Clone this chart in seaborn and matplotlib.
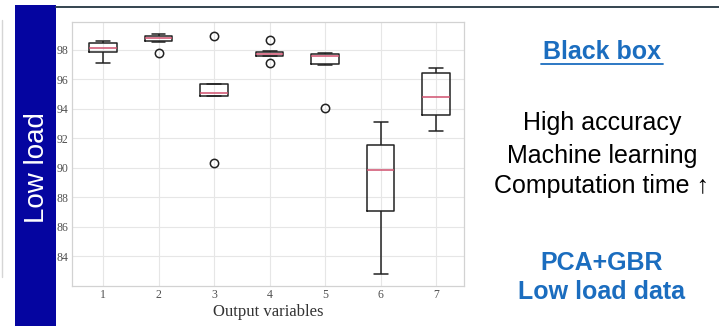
import numpy as np
import pandas as pd
import matplotlib
matplotlib.use('Agg')
import matplotlib.pyplot as plt
from matplotlib.lines import Line2D
from matplotlib.patches import Rectangle
import seaborn as sns

var_labels = ['1', '2', '3', '4', '5', '6', '7']
acc_1 = [97.14, 97.60, 97.84, 98.00, 98.15, 98.30, 98.50, 98.58, 98.63]
acc_2 = [97.78, 98.55, 98.59, 98.70, 98.83, 98.90, 98.97, 99.05, 99.10]
acc_3 = [90.32, 94.88, 94.90, 94.95, 95.07, 95.40, 95.70, 95.72, 98.95]
acc_4 = [97.10, 97.58, 97.60, 97.65, 97.72, 97.80, 97.88, 97.90, 98.65]
acc_5 = [94.10, 97.00, 97.03, 97.30, 97.60, 97.65, 97.70, 97.75, 97.80]
acc_6 = [82.82, 85.50, 87.10, 88.50, 89.84, 90.70, 91.56, 92.30, 93.11]
acc_7 = [92.48, 93.20, 93.56, 94.20, 94.82, 95.60, 96.42, 96.60, 96.76]
y_ticks = [84, 86, 88, 90, 92, 94, 96, 98]

samples = [acc_1, acc_2, acc_3, acc_4, acc_5, acc_6, acc_7]
df = pd.DataFrame({
    'var': np.repeat(var_labels, [len(s) for s in samples]),
    'acc': np.concatenate(samples),
})

sns.set_style('white')
plt.rcParams['font.family'] = ['Liberation Sans', 'DejaVu Sans']

fig = plt.figure(figsize=(7.19, 3.26), dpi=100)
fig.patch.set_facecolor('white')

# slide decorations
fig.add_artist(Rectangle((0.0209, 0.0), 0.057, 0.985, transform=fig.transFigure,
                         facecolor='#0505a0', edgecolor='none'))
fig.add_artist(Line2D([0.078, 1.0], [0.9785, 0.9785], transform=fig.transFigure,
                      color='#34444f', linewidth=1.4))
fig.add_artist(Line2D([0.003, 0.003], [0.15, 0.94], transform=fig.transFigure,
                      color='#d5d5d5', linewidth=1.0))
fig.text(0.0515, 0.485, 'Low load', rotation=90, color='white', fontsize=20,
         ha='center', va='center')

ax = fig.add_axes([0.1001, 0.1227, 0.545, 0.81])
sns.boxplot(data=df, x='var', y='acc', order=var_labels, ax=ax,
            fill=False, color='#222222', width=0.5, linewidth=1.1,
            medianprops=dict(color='#d0506e', linewidth=1.1),
            flierprops=dict(marker='o', markersize=6, markerfacecolor='none',
                            markeredgecolor='#222222', markeredgewidth=1.1))

ax.set_ylim(82.0, 99.9)
ax.set_xlim(-0.56, 6.5)
ax.set_yticks(y_ticks)
ax.grid(True, color='#e6e6e6', linewidth=0.8)
ax.set_axisbelow(True)
for s in ax.spines.values():
    s.set_color('#d2d2d2')
    s.set_linewidth(0.9)
ax.tick_params(length=0, pad=2.5, labelsize=8.5, labelcolor='#505050')
for lab in ax.get_xticklabels() + ax.get_yticklabels():
    lab.set_family('Liberation Serif')
ax.set_ylabel('')
ax.set_xlabel('Output variables', family='Liberation Serif', fontsize=12,
              color='#333333', labelpad=2)

# right-hand notes
blue = '#1b6dbf'
fig.text(0.837, 0.819, 'Black box', color=blue, fontsize=18, fontweight='bold',
         ha='center', va='baseline')
fig.add_artist(Line2D([0.752, 0.922], [0.805, 0.805], transform=fig.transFigure,
                      color=blue, linewidth=1.3))
fig.text(0.837, 0.601, 'High accuracy', color='black', fontsize=18,
         ha='center', va='baseline')
fig.text(0.837, 0.500, 'Machine learning', color='black', fontsize=18,
         ha='center', va='baseline')
fig.text(0.837, 0.408, 'Computation time \u2191', color='black', fontsize=18,
         ha='center', va='baseline')
fig.text(0.837, 0.172, 'PCA+GBR', color=blue, fontsize=18, fontweight='bold',
         ha='center', va='baseline')
fig.text(0.837, 0.083, 'Low load data', color=blue, fontsize=18, fontweight='bold',
         ha='center', va='baseline')

fig.savefig('out.png', dpi=100)
plt.close(fig)
